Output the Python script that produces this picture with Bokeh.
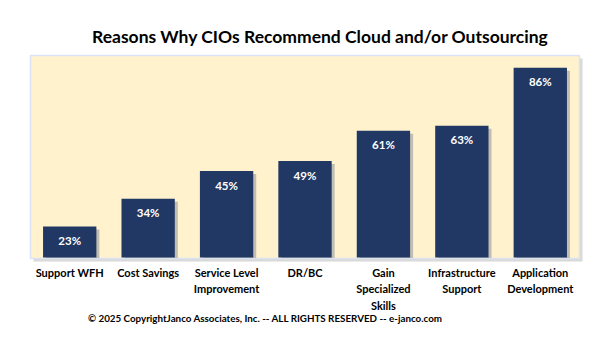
from bokeh.plotting import figure
from bokeh.models import Range1d, ColumnDataSource, Label
from bokeh.core.properties import value
from bokeh.embed import file_html
from bokeh.resources import INLINE

categories = ["Support WFH", "Cost Savings", "Service Level\nImprovement", "DR/BC",
              "Gain\nSpecialized\nSkills", "Infrastructure\nSupport", "Application\nDevelopment"]
values = [23, 34, 45, 49, 61, 63, 86]
value_labels = ["23%", "34%", "45%", "49%", "61%", "63%", "86%"]
title_text = "Reasons Why CIOs Recommend Cloud and/or  Outsourcing"
footer_text = "\u00a9 2025 CopyrightJanco Associates, Inc. -- ALL RIGHTS RESERVED -- e-janco.com"

# value axis (hidden): plot area spans Y0..Y1
Y0, Y1 = 10.3, 90.9
N = len(categories)
xs = [i + 0.5 for i in range(N)]

W, H = 600, 352
left_px, right_px, top_px, bot_px = 30, 579, 55, 258
ux = (right_px - left_px) / N
uy = (bot_px - top_px) / (Y1 - Y0)

p = figure(width=W, height=H, output_backend="svg", toolbar_location=None,
           x_axis_location=None, y_axis_location=None, min_border=0,
           x_range=Range1d(-left_px / ux, (W - left_px) / ux),
           y_range=Range1d(Y0 - (H - bot_px) / uy, Y1 + top_px / uy),
           background_fill_color="white", border_fill_color="white")
p.outline_line_color = None
p.grid.visible = False

# plot area shadow + area
p.quad(left=0 + 3 / ux, right=N + 3 / ux, bottom=Y0 - 3 / uy, top=Y1 - 3 / uy,
       fill_color="#BFBFBF", fill_alpha=0.6, line_color=None)
p.quad(left=0, right=N, bottom=Y0, top=Y1, fill_color="#FFF2CC",
       line_color="#DAE3F3", line_width=1.5)

src = ColumnDataSource(dict(x=xs, v=values, lab=value_labels, cat=categories,
                            xs=[x + 3 / ux for x in xs],
                            vs=[v - 3 / uy for v in values]))
# bar shadows
p.vbar(x="xs", top="vs", bottom=Y0 + 0.2, width=0.68, source=src,
       fill_color="#A6A6A6", fill_alpha=0.7, line_color=None)
p.vbar(x="x", top="v", bottom=Y0 + 0.4, width=0.68, source=src,
       fill_color="#213864", line_color=None)

p.text(x="x", y="v", text="lab", source=src, y_offset=14,
       text_align="center", text_baseline="middle",
       text_font=value("Lato"), text_font_style="bold", text_font_size="11.5px",
       text_color="white")

p.text(x="x", y=Y0, text="cat", source=src, y_offset=7,
       text_align="center", text_baseline="top", text_line_height=1.27,
       text_font=value("Lato"), text_font_style="bold", text_font_size="11px",
       text_color="black")

p.add_layout(Label(x=322, y=H - 36, x_units="screen", y_units="screen",
                   text=title_text, text_align="center", text_baseline="middle",
                   text_font="Lato", text_font_style="bold", text_font_size="17.5px",
                   text_color="black"))
p.add_layout(Label(x=265, y=H - 317, x_units="screen", y_units="screen",
                   text=footer_text, text_align="center", text_baseline="middle",
                   text_font="Lato", text_font_style="bold", text_font_size="9.8px",
                   text_color="black"))

open("out.html", "w").write(file_html(p, INLINE))
